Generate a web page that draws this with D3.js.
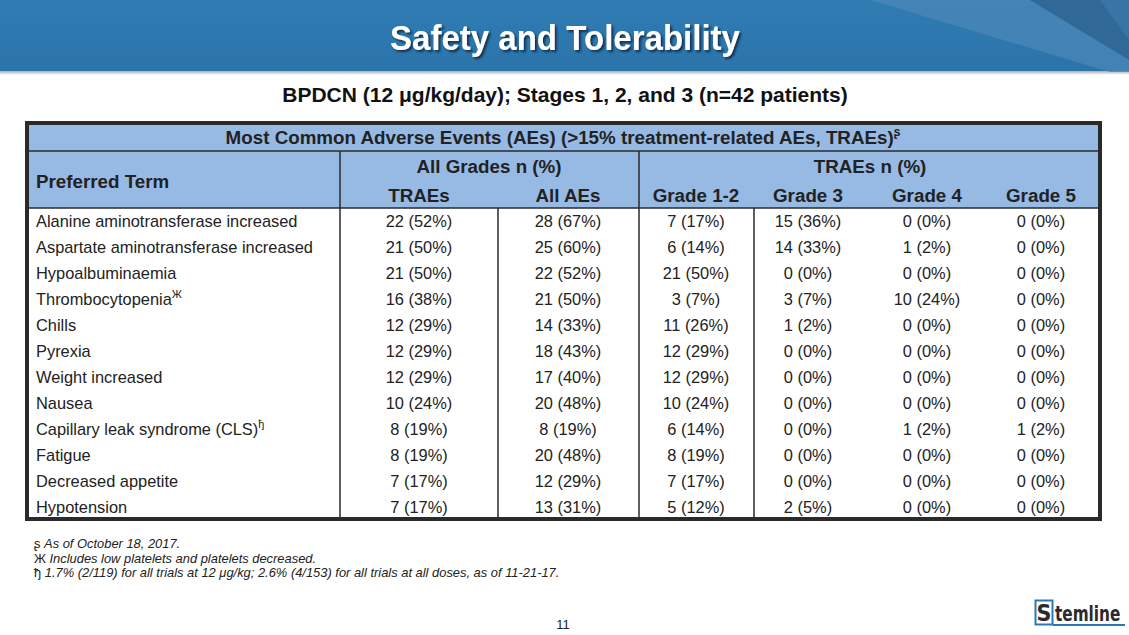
<!DOCTYPE html>
<html><head><meta charset="utf-8">
<script src="https://cdn.jsdelivr.net/npm/d3@7"></script>
<style>
html,body{margin:0;padding:0;background:#fff;}
svg{display:block;font-family:"Liberation Sans",Arial,sans-serif;}
</style></head>
<body><svg id="c" width="1129" height="635"></svg>
<script>
const title = "Safety and Tolerability";
const subtitle = "BPDCN (12 \u03bcg/kg/day); Stages 1, 2, and 3 (n=42 patients)";
const tableTitle = "Most Common Adverse Events (AEs) (>15% treatment-related AEs, TRAEs)";
const groupLabels = ["All Grades n (%)", "TRAEs n (%)"];
const columnLabels = ["TRAEs", "All AEs", "Grade 1-2", "Grade 3", "Grade 4", "Grade 5"];
const terms = ["Alanine aminotransferase increased","Aspartate aminotransferase increased","Hypoalbuminaemia","Thrombocytopenia","Chills","Pyrexia","Weight increased","Nausea","Capillary leak syndrome (CLS)","Fatigue","Decreased appetite","Hypotension"];
const termMarks = ["","","","\u0416","","","","","\u0452","","",""];
const traes   = ["22 (52%)","21 (50%)","21 (50%)","16 (38%)","12 (29%)","12 (29%)","12 (29%)","10 (24%)","8 (19%)","8 (19%)","7 (17%)","7 (17%)"];
const allAes  = ["28 (67%)","25 (60%)","22 (52%)","21 (50%)","14 (33%)","18 (43%)","17 (40%)","20 (48%)","8 (19%)","20 (48%)","12 (29%)","13 (31%)"];
const grade12 = ["7 (17%)","6 (14%)","21 (50%)","3 (7%)","11 (26%)","12 (29%)","12 (29%)","10 (24%)","6 (14%)","8 (19%)","7 (17%)","5 (12%)"];
const grade3  = ["15 (36%)","14 (33%)","0 (0%)","3 (7%)","1 (2%)","0 (0%)","0 (0%)","0 (0%)","0 (0%)","0 (0%)","0 (0%)","2 (5%)"];
const grade4  = ["0 (0%)","1 (2%)","0 (0%)","10 (24%)","0 (0%)","0 (0%)","0 (0%)","0 (0%)","1 (2%)","0 (0%)","0 (0%)","0 (0%)"];
const grade5  = ["0 (0%)","0 (0%)","0 (0%)","0 (0%)","0 (0%)","0 (0%)","0 (0%)","0 (0%)","1 (2%)","0 (0%)","0 (0%)","0 (0%)"];
const footSymbols = ["\u0282","\u0416","\u0452"];
const footTexts = ["As of October 18, 2017.","Includes low platelets and platelets decreased.","1.7% (2/119) for all trials at 12 \u03bcg/kg; 2.6% (4/153) for all trials at all doses, as of 11-21-17."];
const pageNumber = "11";

const svg = d3.select("#c");
const defs = svg.append("defs");
const g1 = defs.append("linearGradient").attr("id","hdr").attr("x1",0).attr("y1",0).attr("x2",0).attr("y2",1);
g1.append("stop").attr("offset","0%").attr("stop-color","#2f7cb3");
g1.append("stop").attr("offset","100%").attr("stop-color","#2b74aa");
const sh = defs.append("filter").attr("id","ts").attr("x","-10%").attr("y","-30%").attr("width","120%").attr("height","160%");
sh.append("feDropShadow").attr("dx",2).attr("dy",2).attr("stdDeviation",1.2).attr("flood-color","#0b2a44").attr("flood-opacity",0.9);
const bsh = defs.append("linearGradient").attr("id","bsh").attr("x1",0).attr("y1",0).attr("x2",0).attr("y2",1);
bsh.append("stop").attr("offset","0%").attr("stop-color","#9a9a9a");
bsh.append("stop").attr("offset","100%").attr("stop-color","#ffffff");

// header band
svg.append("rect").attr("x",0).attr("y",70).attr("width",1129).attr("height",5).attr("fill","url(#bsh)");
svg.append("rect").attr("x",0).attr("y",0).attr("width",1129).attr("height",71).attr("fill","url(#hdr)");
svg.append("path").attr("d","M870,0 L1129,0 L1129,72 L1110,72 Z").attr("fill","#4a86b6").attr("opacity",0.8);
svg.append("path").attr("d","M1030,0 L1129,0 L1129,60 Z").attr("fill","#2a5f8e").attr("opacity",0.75);
svg.append("path").attr("d","M1100,0 L1129,0 L1129,40 Z").attr("fill","#3d7aa9").attr("opacity",0.7);
svg.append("text").attr("x",390).attr("y",50)
  .attr("font-size",35).attr("font-weight","bold").attr("fill","#fff").attr("filter","url(#ts)")
  .attr("textLength",350).attr("lengthAdjust","spacingAndGlyphs").text(title);

svg.append("text").attr("x",565).attr("y",102).attr("text-anchor","middle")
  .attr("font-size",21).attr("font-weight","bold").attr("fill","#111").text(subtitle);

// table geometry
const T = {x0:25, x1:1102, y0:121, y1:521, hdr1:151, hdr2:208};
const colCenters = [419, 568, 696, 808, 927, 1041];
const x = d3.scaleOrdinal().domain(columnLabels).range(colCenters);
const y = d3.scaleBand().domain(terms).range([T.hdr2, T.y1 - 1]);
const cols = [traes, allAes, grade12, grade3, grade4, grade5];
const ink = "#222";
const hfs = 18.8, bfs = 16.4;

svg.append("rect").attr("x",T.x0).attr("y",T.y0).attr("width",T.x1-T.x0).attr("height",T.hdr2-T.y0).attr("fill","#97bae5");
svg.append("rect").attr("x",T.x0).attr("y",T.hdr2).attr("width",T.x1-T.x0).attr("height",T.y1-T.hdr2).attr("fill","#fff");

const lines = [
  [T.x0, T.hdr1, T.x1, T.hdr1],
  [T.x0, T.hdr2, T.x1, T.hdr2],
  [340, T.hdr1, 340, T.y1],
  [639, T.hdr1, 639, T.y1],
  [498, T.hdr2, 498, T.y1],
  [754, T.hdr2, 754, T.y1]
];
svg.selectAll("line.grid").data(lines).join("line").attr("class","grid")
  .attr("x1",d=>d[0]).attr("y1",d=>d[1]).attr("x2",d=>d[2]).attr("y2",d=>d[3])
  .attr("stroke","#2a2a2a").attr("stroke-width",1.5);
svg.append("rect").attr("x",T.x0+2).attr("y",T.y0+2).attr("width",T.x1-T.x0-4).attr("height",T.y1-T.y0-4)
  .attr("fill","none").attr("stroke","#2a2a2a").attr("stroke-width",4);

// header texts
const tt = svg.append("text").attr("x",563).attr("y",144).attr("text-anchor","middle")
  .attr("font-size",hfs).attr("font-weight","bold").attr("fill",ink);
tt.append("tspan").text(tableTitle);
tt.append("tspan").attr("font-size",12).attr("dy",-8).text(footSymbols[0]);

svg.append("text").attr("x",36).attr("y",188).attr("font-size",hfs).attr("font-weight","bold").attr("fill",ink).text("Preferred Term");
svg.selectAll("text.grp").data(groupLabels).join("text").attr("class","grp")
  .attr("x",(d,i)=> i===0 ? 489 : 870).attr("y",173).attr("text-anchor","middle")
  .attr("font-size",hfs).attr("font-weight","bold").attr("fill",ink).text(d=>d);
svg.selectAll("text.colh").data(columnLabels).join("text").attr("class","colh")
  .attr("x",d=>x(d)).attr("y",202).attr("text-anchor","middle")
  .attr("font-size",hfs).attr("font-weight","bold").attr("fill",ink).text(d=>d);

// body
const rows = svg.selectAll("g.row").data(terms).join("g").attr("class","row")
  .attr("transform",d=>`translate(0,${y(d)+y.bandwidth()/2})`);
const lab = rows.append("text").attr("x",36).attr("y",6).attr("font-size",bfs).attr("fill",ink);
lab.append("tspan").text(d=>d);
lab.append("tspan").attr("font-size",11).attr("dy",-7).text((d,i)=>termMarks[i]);
cols.forEach((arr,ci)=>{
  rows.append("text").attr("x",colCenters[ci]).attr("y",6).attr("text-anchor","middle")
    .attr("font-size",bfs).attr("fill",ink).text((d,i)=>arr[i]);
});

// footnotes
const fn = svg.selectAll("text.fn").data(footTexts).join("text").attr("class","fn")
  .attr("x",34).attr("y",(d,i)=>548+i*14.5).attr("font-size",12.9).attr("fill",ink);
fn.append("tspan").text((d,i)=>footSymbols[i]+" ");
fn.append("tspan").attr("font-style","italic").text(d=>d);

svg.append("text").attr("x",563).attr("y",629).attr("text-anchor","middle").attr("font-size",13).attr("fill",ink).text(pageNumber);

// logo
const lg = svg.append("g").attr("transform","translate(1035,600)");
lg.append("rect").attr("x",0.5).attr("y",0.5).attr("width",17).attr("height",24).attr("fill","none").attr("stroke","#2b78b5").attr("stroke-width",2);
lg.append("text").attr("x",9).attr("y",21).attr("text-anchor","middle").attr("font-size",23).attr("font-weight","bold")
  .attr("font-family","'DejaVu Sans Condensed','Liberation Sans Narrow',sans-serif").attr("fill","#2b2b2b").text("S");
lg.append("text").attr("transform","translate(20,21) scale(1,1.25)").attr("font-size",17).attr("font-weight","bold")
  .attr("font-family","'DejaVu Sans Condensed','Liberation Sans Narrow',sans-serif").attr("fill","#2b2b2b")
  .text("temline");
lg.append("rect").attr("x",18).attr("y",24).attr("width",72).attr("height",2).attr("fill","#2b78b5");
</script></body></html>
